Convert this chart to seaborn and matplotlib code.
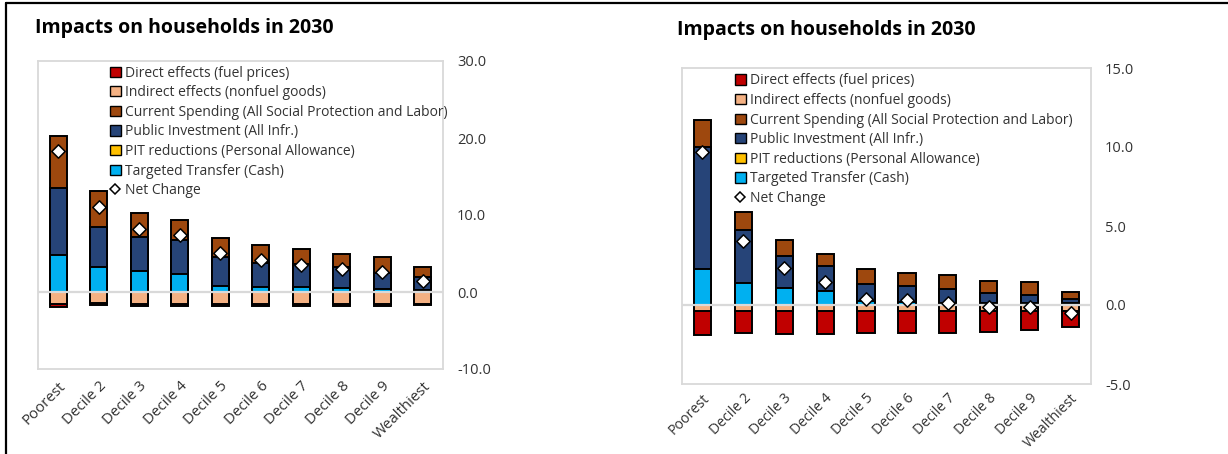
import matplotlib
matplotlib.use("Agg")
import matplotlib.pyplot as plt
from matplotlib.patches import Patch
from matplotlib.lines import Line2D
import numpy as np
import seaborn as sns

# Income groups along the x axis
deciles = ["Poorest", "Decile 2", "Decile 3", "Decile 4", "Decile 5",
           "Decile 6", "Decile 7", "Decile 8", "Decile 9", "Wealthiest"]

# Left panel: changes in household welfare (% of consumption)
direct_l = [-0.45, -0.3, -0.3, -0.35, -0.3, -0.3, -0.3, -0.3, -0.3, -0.25]
indirect_l = [-1.5, -1.45, -1.5, -1.5, -1.5, -1.5, -1.5, -1.5, -1.5, -1.5]
current_l = [6.8, 4.6, 3.0, 2.6, 2.5, 2.3, 1.9, 1.7, 2.1, 1.4]
invest_l = [8.7, 5.3, 4.5, 4.3, 3.7, 3.1, 3.0, 2.65, 2.0, 1.6]
pit_l = [0.0, 0.0, 0.0, 0.0, 0.0, 0.0, 0.0, 0.0, 0.0, 0.0]
transfer_l = [4.8, 3.2, 2.7, 2.4, 0.8, 0.7, 0.65, 0.55, 0.45, 0.3]
net_l = [18.3, 11.1, 8.2, 7.4, 5.1, 4.2, 3.5, 3.0, 2.6, 1.4]
yticks_l = [-10, 0, 10, 20, 30]

# Right panel
direct_r = [-1.5, -1.35, -1.45, -1.45, -1.4, -1.35, -1.35, -1.3, -1.2, -1.0]
indirect_r = [-0.4, -0.4, -0.4, -0.4, -0.4, -0.4, -0.4, -0.4, -0.4, -0.4]
current_r = [1.7, 1.15, 1.0, 0.8, 0.9, 0.8, 0.9, 0.75, 0.8, 0.45]
invest_r = [7.7, 3.35, 2.0, 1.55, 1.1, 1.0, 0.9, 0.65, 0.55, 0.3]
pit_r = [0.0, 0.0, 0.0, 0.0, 0.0, 0.0, 0.0, 0.0, 0.0, 0.0]
transfer_r = [2.3, 1.4, 1.1, 0.9, 0.25, 0.2, 0.1, 0.1, 0.1, 0.1]
net_r = [9.7, 4.05, 2.35, 1.45, 0.4, 0.3, 0.15, -0.1, -0.1, -0.5]
yticks_r = [-5, 0, 5, 10, 15]

labels = ["Direct effects (fuel prices)",
          "Indirect effects (nonfuel goods)",
          "Current Spending (All Social Protection and Labor)",
          "Public Investment (All Infr.)",
          "PIT reductions (Personal Allowance)",
          "Targeted Transfer (Cash)",
          "Net Change"]
colors = ["#C00000", "#F4B183", "#9E480E", "#264478", "#FFC000", "#00B0F0"]

sns.set_theme(style="white")
plt.rcParams["font.family"] = ["Open Sans", "DejaVu Sans"]

TEXT = "#333333"
GRID = "#d9d9d9"


def draw_panel(ax, direct, indirect, current, invest, pit, transfer, net,
               yticks, legend_x, legend_y, xfont, xpad):
    direct = np.asarray(direct)
    indirect = np.asarray(indirect)
    # positive stack: transfer, PIT, investment, current spending (bottom to top)
    c_tt = np.asarray(transfer)
    c_pit = c_tt + np.asarray(pit)
    c_inv = c_pit + np.asarray(invest)
    c_cur = c_inv + np.asarray(current)
    # negative stack: indirect nearest zero, then direct effects
    c_neg = indirect + direct

    layers = [(c_cur, colors[2]), (c_inv, colors[3]), (c_pit, colors[4]),
              (c_tt, colors[5]), (c_neg, colors[0]), (indirect, colors[1])]
    for vals, col in layers:
        sns.barplot(x=deciles, y=vals, color=col, saturation=1, width=0.42,
                    edgecolor="black", linewidth=1.4, ax=ax, zorder=2)

    ax.axhline(0, color=GRID, lw=1.6, zorder=3)
    sns.stripplot(x=deciles, y=net, jitter=False, marker="D", size=6.8,
                  color="white", edgecolor="black", linewidth=1.1, ax=ax,
                  zorder=5)

    ax.set_xlim(-0.5, len(deciles) - 0.5)
    ax.set_ylim(yticks[0], yticks[-1])
    ax.set_yticks(yticks)
    ax.set_yticklabels([f"{v:.1f}" for v in yticks], fontsize=10.5, color=TEXT)
    ax.yaxis.tick_right()
    ax.tick_params(axis="y", length=0, pad=10)
    ax.tick_params(axis="x", length=0, pad=xpad)
    ax.set_xticks(range(len(deciles)))
    ax.set_xticklabels(deciles, rotation=45, ha="right",
                       rotation_mode="anchor", fontsize=xfont, color=TEXT)
    ax.set_xlabel("")
    ax.set_ylabel("")
    for sp in ax.spines.values():
        sp.set_color(GRID)
        sp.set_linewidth(1.3)
        sp.set_visible(True)

    handles = [Patch(facecolor=c, edgecolor="black", linewidth=1.0)
               for c in colors]
    handles.append(Line2D([], [], linestyle="none", marker="D",
                          markersize=5, markerfacecolor="white",
                          markeredgecolor="black", markeredgewidth=1.1))
    ax.legend(handles, labels, loc="upper left",
              bbox_to_anchor=(legend_x, legend_y), frameon=False,
              fontsize=10, handlelength=0.75, handleheight=0.75,
              handletextpad=0.35, labelspacing=0.33, borderpad=0,
              borderaxespad=0, labelcolor=TEXT)


fig = plt.figure(figsize=(12.28, 4.54), dpi=100)
ax_l = fig.add_axes([38 / 1228, 1 - 369 / 454, 405 / 1228, 308 / 454])
ax_r = fig.add_axes([682 / 1228, 1 - 384 / 454, 409 / 1228, 316 / 454])

draw_panel(ax_l, direct_l, indirect_l, current_l, invest_l, pit_l,
           transfer_l, net_l, yticks_l, 0.178, 0.985, 10.8, 7)
draw_panel(ax_r, direct_r, indirect_r, current_r, invest_r, pit_r,
           transfer_r, net_r, yticks_r, 0.13, 0.983, 10.2, 5)

fig.text(35 / 1228, 1 - 33 / 454, "Impacts on households in 2030",
         fontsize=14, fontweight="bold", color="black", va="baseline")
fig.text(677 / 1228, 1 - 35 / 454, "Impacts on households in 2030",
         fontsize=14, fontweight="bold", color="black", va="baseline")

# outer frame lines along the top and left edge
fig.add_artist(Line2D([0.0045, 1.0], [1 - 3 / 454, 1 - 3 / 454],
                      transform=fig.transFigure, color="black", lw=1.6))
fig.add_artist(Line2D([0.0045, 0.0045], [0.0, 1 - 3 / 454],
                      transform=fig.transFigure, color="black", lw=1.6))

fig.savefig("out.png", dpi=100)
